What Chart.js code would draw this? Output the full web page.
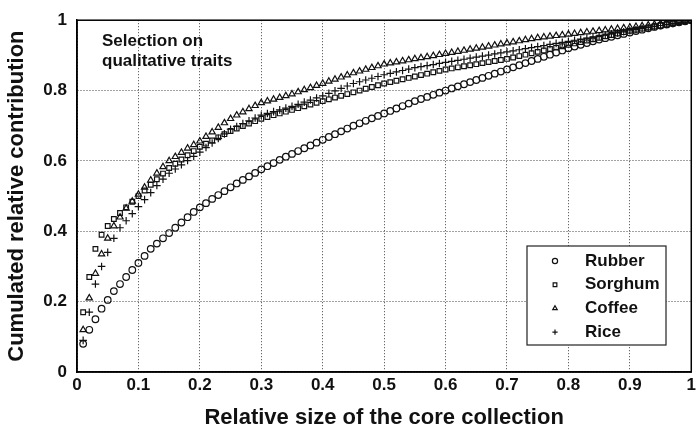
<!DOCTYPE html>
<html>
<head>
<meta charset="utf-8">
<script src="https://cdn.jsdelivr.net/npm/chart.js@4/dist/chart.umd.min.js"></script>
<style>
  html, body { margin: 0; padding: 0; background: #fff; }
  #wrap { width: 699px; height: 435px; position: relative; }
</style>
</head>
<body>
<div id="wrap"><canvas id="chart"></canvas></div>
<script>
// relative size of the core collection (x)
var sizes = [0.01,0.02,0.03,0.04,0.05,0.06,0.07,0.08,0.09,0.10,
  0.11,0.12,0.13,0.14,0.15,0.16,0.17,0.18,0.19,0.20,
  0.21,0.22,0.23,0.24,0.25,0.26,0.27,0.28,0.29,0.30,
  0.31,0.32,0.33,0.34,0.35,0.36,0.37,0.38,0.39,0.40,
  0.41,0.42,0.43,0.44,0.45,0.46,0.47,0.48,0.49,0.50,
  0.51,0.52,0.53,0.54,0.55,0.56,0.57,0.58,0.59,0.60,
  0.61,0.62,0.63,0.64,0.65,0.66,0.67,0.68,0.69,0.70,
  0.71,0.72,0.73,0.74,0.75,0.76,0.77,0.78,0.79,0.80,
  0.81,0.82,0.83,0.84,0.85,0.86,0.87,0.88,0.89,0.90,
  0.91,0.92,0.93,0.94,0.95,0.96,0.97,0.98,0.99,1.00];

var rubber = [0.08,0.12,0.15,0.18,0.205,0.23,0.25,0.27,0.29,0.31,
  0.33,0.35,0.365,0.38,0.395,0.41,0.425,0.44,0.455,0.468,
  0.48,0.492,0.503,0.514,0.525,0.536,0.546,0.556,0.566,0.576,
  0.585,0.594,0.603,0.612,0.62,0.628,0.636,0.644,0.652,0.66,
  0.668,0.676,0.684,0.692,0.70,0.707,0.714,0.721,0.728,0.735,
  0.742,0.749,0.756,0.763,0.77,0.776,0.782,0.788,0.794,0.80,
  0.806,0.812,0.818,0.824,0.83,0.836,0.842,0.848,0.854,0.86,
  0.866,0.872,0.878,0.884,0.89,0.896,0.902,0.908,0.914,0.92,
  0.925,0.93,0.935,0.94,0.945,0.949,0.953,0.957,0.961,0.965,
  0.969,0.973,0.977,0.981,0.985,0.988,0.991,0.994,0.997,1.00];

var sorghum = [0.17,0.27,0.35,0.39,0.415,0.435,0.452,0.468,0.484,0.50,
  0.516,0.532,0.548,0.564,0.58,0.592,0.604,0.616,0.628,0.64,
  0.649,0.658,0.667,0.676,0.685,0.692,0.699,0.706,0.713,0.72,
  0.725,0.73,0.735,0.74,0.745,0.75,0.755,0.76,0.765,0.77,
  0.775,0.78,0.785,0.79,0.795,0.80,0.805,0.81,0.815,0.82,
  0.824,0.828,0.832,0.836,0.84,0.844,0.848,0.852,0.856,0.86,
  0.863,0.866,0.869,0.872,0.875,0.878,0.881,0.884,0.887,0.89,
  0.894,0.898,0.902,0.906,0.91,0.914,0.918,0.922,0.926,0.93,
  0.934,0.938,0.942,0.946,0.95,0.954,0.958,0.962,0.966,0.97,
  0.973,0.976,0.979,0.982,0.985,0.988,0.991,0.994,0.997,1.00];

var coffee = [0.12,0.21,0.28,0.335,0.38,0.415,0.44,0.465,0.485,0.505,
  0.525,0.545,0.565,0.583,0.60,0.612,0.624,0.636,0.646,0.656,
  0.669,0.682,0.695,0.708,0.72,0.73,0.739,0.748,0.757,0.765,
  0.77,0.775,0.78,0.785,0.79,0.796,0.802,0.808,0.814,0.82,
  0.826,0.832,0.838,0.844,0.85,0.855,0.86,0.865,0.87,0.875,
  0.878,0.881,0.884,0.887,0.89,0.893,0.896,0.899,0.902,0.905,
  0.908,0.911,0.914,0.917,0.92,0.923,0.926,0.929,0.932,0.935,
  0.938,0.941,0.944,0.947,0.95,0.952,0.954,0.956,0.958,0.96,
  0.962,0.964,0.966,0.968,0.97,0.972,0.974,0.976,0.978,0.98,
  0.982,0.984,0.986,0.988,0.99,0.992,0.994,0.996,0.998,1.00];

var rice = [0.09,0.17,0.25,0.30,0.34,0.38,0.41,0.43,0.45,0.47,
  0.49,0.51,0.53,0.548,0.565,0.577,0.589,0.601,0.613,0.625,
  0.638,0.651,0.664,0.677,0.69,0.698,0.706,0.714,0.722,0.73,
  0.735,0.74,0.745,0.75,0.755,0.761,0.767,0.773,0.779,0.785,
  0.792,0.799,0.806,0.813,0.82,0.825,0.83,0.835,0.84,0.845,
  0.849,0.853,0.857,0.861,0.865,0.868,0.871,0.874,0.877,0.88,
  0.883,0.886,0.889,0.892,0.895,0.898,0.901,0.904,0.907,0.91,
  0.913,0.916,0.919,0.922,0.925,0.928,0.931,0.934,0.937,0.94,
  0.943,0.946,0.949,0.952,0.955,0.958,0.961,0.964,0.967,0.97,
  0.973,0.976,0.979,0.982,0.985,0.988,0.991,0.994,0.997,1.00];

var seriesNames = ['Rubber', 'Sorghum', 'Coffee', 'Rice'];
var seriesMarkers = ['circle', 'rect', 'triangle', 'cross'];
var noteLines = ['Selection on', 'qualitative traits'];

var FONT = "'Liberation Sans', Arial, sans-serif";

function pts(ys) {
  return ys.map(function(y, i) { return {x: sizes[i], y: y}; });
}

function makeSet(name, ys, marker, r) {
  return {
    label: name,
    data: pts(ys),
    showLine: false,
    pointStyle: marker,
    pointRadius: r,
    pointBorderColor: '#111',
    pointBackgroundColor: 'rgba(255,255,255,0)',
    pointBorderWidth: 1.2
  };
}

// frame, note and the legend box drawn inside the plot
var extras = {
  id: 'extras',
  afterDraw: function(chart) {
    var ctx = chart.ctx, a = chart.chartArea;
    ctx.save();
    ctx.strokeStyle = '#000';
    ctx.lineWidth = 1.5;
    ctx.strokeRect(a.left, a.top, a.right - a.left, a.bottom - a.top);

    ctx.fillStyle = '#111';
    ctx.font = 'bold 17px ' + FONT;
    ctx.textBaseline = 'middle';
    ctx.fillText(noteLines[0], 102, 41);
    ctx.fillText(noteLines[1], 102, 61);

    // legend
    var lx = 527, ly = 246, lw = 139, lh = 99;
    ctx.fillStyle = '#fff';
    ctx.fillRect(lx, ly, lw, lh);
    ctx.lineWidth = 1.2;
    ctx.strokeStyle = '#222';
    ctx.strokeRect(lx, ly, lw, lh);
    ctx.font = 'bold 17px ' + FONT;
    for (var i = 0; i < seriesNames.length; i++) {
      var yy = ly + 15 + i * 23.7;
      ctx.strokeStyle = '#111';
      ctx.fillStyle = '#fff';
      Chart.helpers.drawPoint(ctx, {pointStyle: seriesMarkers[i], radius: 2.6, borderWidth: 1.2, rotation: 0}, lx + 28, yy);
      ctx.fillStyle = '#111';
      ctx.fillText(seriesNames[i], lx + 58, yy);
    }
    ctx.restore();
  }
};

var ctx = document.getElementById('chart');
new Chart(ctx, {
  type: 'scatter',
  data: {
    datasets: [
      makeSet(seriesNames[0], rubber, seriesMarkers[0], 3.3),
      makeSet(seriesNames[1], sorghum, seriesMarkers[1], 3.3),
      makeSet(seriesNames[2], coffee, seriesMarkers[2], 3.6),
      makeSet(seriesNames[3], rice, seriesMarkers[3], 3.8)
    ]
  },
  plugins: [extras],
  options: {
    responsive: true,
    maintainAspectRatio: false,
    animation: false,
    layout: { padding: { top: 13, right: 4, left: 0, bottom: 0 } },
    plugins: {
      legend: { display: false },
      tooltip: { enabled: false }
    },
    scales: {
      x: {
        type: 'linear',
        min: 0, max: 1,
        afterFit: function(s) { s.height = 63; },
        ticks: {
          stepSize: 0.1,
          color: '#111',
          padding: 3,
          font: { family: FONT, size: 17, weight: 'bold' },
          callback: function(v) { return Math.round(v * 10) / 10; }
        },
        grid: { color: '#444', lineWidth: 1, drawTicks: false },
        border: { display: true, color: '#000', width: 1.5, dash: [1, 2] },
        title: {
          display: true,
          text: 'Relative size of the core collection',
          color: '#111',
          font: { family: FONT, size: 22, weight: 'bold' },
          padding: { top: 4 }
        }
      },
      y: {
        min: 0, max: 1,
        afterFit: function(s) { s.width = 77; },
        ticks: {
          stepSize: 0.2,
          color: '#111',
          padding: 10,
          font: { family: FONT, size: 17, weight: 'bold' },
          callback: function(v) { return Math.round(v * 10) / 10; }
        },
        grid: { color: '#444', lineWidth: 1, drawTicks: false },
        border: { display: true, color: '#000', width: 1.5, dash: [1, 2] },
        title: {
          display: true,
          text: 'Cumulated relative contribution',
          color: '#111',
          font: { family: FONT, size: 22, weight: 'bold' },
          padding: { bottom: 2 }
        }
      }
    }
  }
});
</script>
</body>
</html>
